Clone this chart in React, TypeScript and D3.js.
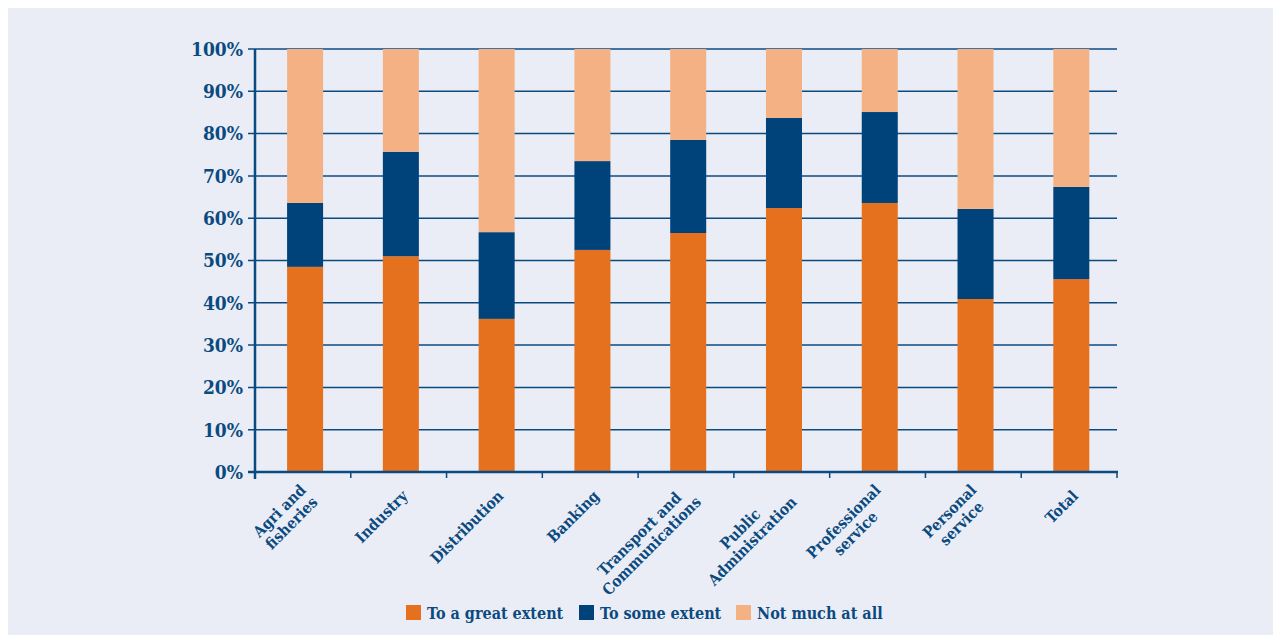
import React, { useEffect, useRef } from "react";
import * as d3 from "d3";

const categories: string[][] = [
  ["Agri and", "fisheries"],
  ["Industry"],
  ["Distribution"],
  ["Banking"],
  ["Transport and", "Communications"],
  ["Public", "Administration"],
  ["Professional", "service"],
  ["Personal", "service"],
  ["Total"],
];
const greatExtent = [48.5, 51, 36.2, 52.5, 56.5, 62.4, 63.6, 40.9, 45.6];
const someExtent = [15.1, 24.7, 20.5, 21.0, 22.0, 21.3, 21.5, 21.3, 21.8];
const notMuch = greatExtent.map((g, i) => 100 - g - someExtent[i]);
const seriesNames = ["To a great extent", "To some extent", "Not much at all"];
const seriesColors = ["#E5701E", "#00427A", "#F4B183"];
const yTicks = [0, 10, 20, 30, 40, 50, 60, 70, 80, 90, 100];

const W = 1265;
const H = 627;
const BG = "#EAEDF5";
const NAVY = "#0B4A80";
const FONT = "'DejaVu Serif Condensed', 'DejaVu Serif', serif";

export default function App() {
  const ref = useRef<SVGSVGElement>(null);
  useEffect(() => {
    const svg = d3.select(ref.current);
    svg.selectAll("*").remove();
    const left = 247, right = 1109, top = 41, bottom = 464;
    svg.append("rect").attr("width", W).attr("height", H).attr("fill", BG);

    const xb = d3.scaleBand<number>().domain(d3.range(categories.length)).range([left, right]);
    const barX = (i: number) => xb(i)! + xb.bandwidth() * 0.335;
    const barW = xb.bandwidth() * 0.376;
    const y = d3.scaleLinear().domain([0, 100]).range([bottom, top]);

    svg.append("g").selectAll("line").data(yTicks.filter(t => t > 0)).join("line")
      .attr("x1", left - 7).attr("x2", right).attr("y1", d => y(d)).attr("y2", d => y(d))
      .attr("stroke", NAVY).attr("stroke-width", 1.5);
    svg.append("line").attr("x1", left - 7).attr("x2", left).attr("y1", y(0)).attr("y2", y(0)).attr("stroke", NAVY).attr("stroke-width", 1.5);

    const stack = d3.stack<number>().keys(["0", "1", "2"]).value((i, k) => [greatExtent, someExtent, notMuch][+k][i]);
    const stacked = stack(d3.range(categories.length));
    svg.append("g").selectAll("g").data(stacked).join("g")
      .attr("fill", (_, i) => seriesColors[i])
      .selectAll("rect").data(d => d).join("rect")
      .attr("x", d => barX(d.data)).attr("width", barW)
      .attr("y", d => y(d[1])).attr("height", d => y(d[0]) - y(d[1]));

    svg.append("line").attr("x1", left).attr("x2", left).attr("y1", top).attr("y2", bottom + 7)
      .attr("stroke", NAVY).attr("stroke-width", 2.5);
    svg.append("line").attr("x1", left - 7).attr("x2", right + 1).attr("y1", bottom).attr("y2", bottom)
      .attr("stroke", NAVY).attr("stroke-width", 2.5);
    svg.append("g").selectAll("line").data(d3.range(1, categories.length + 1)).join("line")
      .attr("x1", i => i < categories.length ? xb(i)! : right).attr("x2", i => i < categories.length ? xb(i)! : right)
      .attr("y1", bottom).attr("y2", bottom + 6).attr("stroke", NAVY).attr("stroke-width", 1.5);

    svg.append("g").selectAll("text").data(yTicks).join("text")
      .attr("x", left - 12).attr("y", d => y(d)).attr("dy", "0.36em")
      .attr("text-anchor", "end").attr("font-family", FONT).attr("font-weight", "bold")
      .attr("font-size", 19).attr("fill", NAVY).text(d => `${d}%`);

    const lineH = 17;
    categories.forEach((lines, i) => {
      const cx = xb(i)! + xb.bandwidth() / 2 + 10;
      const g = svg.append("g").attr("transform", `translate(${cx},${bottom + 25}) rotate(-45)`);
      const texts = lines.map((l, j) =>
        g.append("text").attr("font-family", FONT).attr("font-weight", "bold").attr("font-size", 15.5)
          .attr("fill", NAVY).attr("text-anchor", "middle").attr("y", (j - (lines.length - 1) / 2) * lineH).text(l)
      );
      const widths = texts.map(t => (t.node() as SVGTextElement).getComputedTextLength());
      const maxW = Math.max(...widths);
      texts.forEach(t => t.attr("x", -maxW / 2));
    });

    const legendX = [398, 571, 728];
    seriesNames.forEach((name, i) => {
      svg.append("rect").attr("x", legendX[i]).attr("y", 597).attr("width", 15).attr("height", 15).attr("fill", seriesColors[i]);
      svg.append("text").attr("x", legendX[i] + 21).attr("y", 611).attr("font-family", FONT).attr("font-weight", "bold")
        .attr("font-size", 16).attr("fill", NAVY).text(name);
    });
  }, []);
  return <svg ref={ref} width={W} height={H} style={{ display: "block" }} />;
}
